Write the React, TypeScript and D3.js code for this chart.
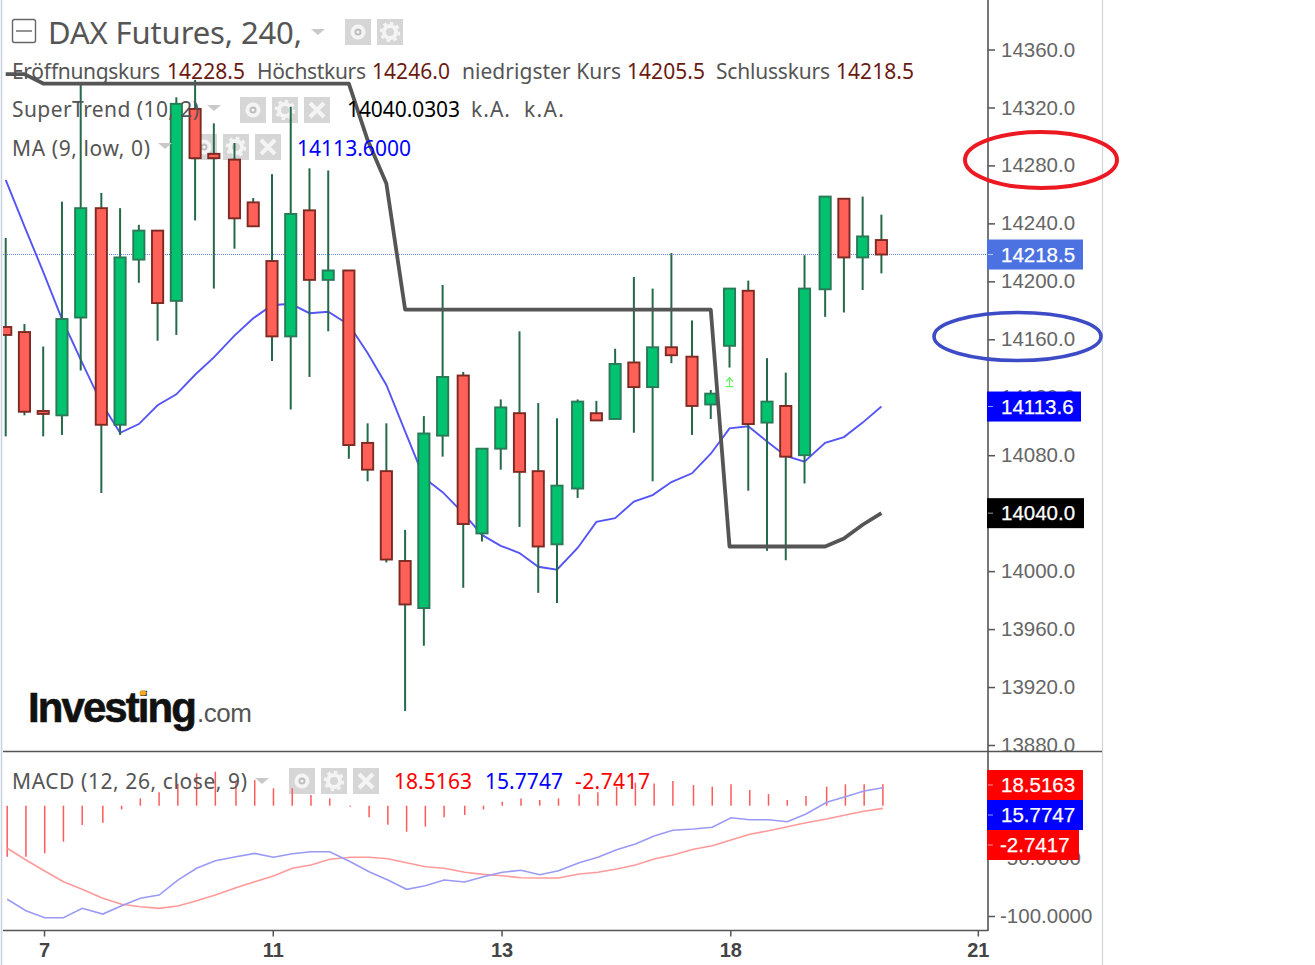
import * as React from "react";
import { useEffect, useRef } from "react";
import * as d3 from "d3";

// candles, oldest first
const opens = [14168.5, 14165, 14110.5, 14107.5, 14175, 14250.5, 14101, 14215, 14235, 14186.5, 14319, 14288, 14284, 14254.5, 14214, 14162, 14249, 14201, 14207.5, 14088.5, 14069, 14007, 13974.5, 14093.5, 14135, 14026, 14084.5, 14109, 14069, 14018.5, 14057, 14109, 14105, 14144, 14127, 14154.5, 14148, 14115, 14155.5, 14193.5, 14102.5, 14114, 14080, 14194.5, 14257, 14216.5, 14228.5];
const highs = [14230, 14170.5, 14155, 14255, 14337, 14261, 14250.5, 14239, 14235, 14327, 14339, 14309, 14295.5, 14257.5, 14274, 14320.5, 14278, 14276.5, 14207.5, 14102, 14102, 14028.5, 14107, 14197.5, 14137.5, 14084.5, 14118.5, 14165.5, 14116, 14105.5, 14118.5, 14117.5, 14153.5, 14203, 14195, 14219.5, 14173, 14125, 14195, 14200.5, 14147, 14137, 14218, 14258.5, 14257.5, 14258.5, 14246];
const lows = [14093, 14107.5, 14093, 14094, 14138.5, 14054, 14094, 14199, 14159, 14163, 14242, 14195, 14222.5, 14238, 14145, 14111.5, 14134, 14165.5, 14077.5, 14062, 14006, 13903.5, 13948.5, 14079, 13988.5, 14020.5, 14070, 14030.5, 13985, 13978, 14050.5, 14104, 14105, 14095.5, 14062, 14143.5, 14094, 14105, 14140.5, 14055.5, 14014, 14007.5, 14060.5, 14175.5, 14178.5, 14194, 14205.5];
const closes = [14163, 14110, 14108.5, 14174, 14250.5, 14101, 14216.5, 14235, 14185, 14322.5, 14285, 14285, 14243.5, 14238, 14162, 14246.5, 14201, 14207.5, 14087, 14070, 14008, 13977, 14095, 14134, 14032.5, 14084.5, 14113, 14068.5, 14017, 14059, 14117, 14104, 14143, 14127, 14154.5, 14149, 14114, 14122.5, 14195, 14101.5, 14117, 14079, 14195, 14258.5, 14216.5, 14231, 14218.5];

const maLow = [14270, 14238, 14206.5, 14174, 14146, 14116, 14095.5, 14101.5, 14114.5, 14122, 14135.5, 14147.5, 14162.5, 14174.5, 14183.5, 14184.5, 14178, 14179, 14170, 14150.5, 14128.5, 14096.5, 14064.5, 14054.5, 14040, 14025, 14017.5, 14012.5, 14003, 14001, 14016, 14034, 14036.5, 14048, 14052.5, 14061.5, 14067.5, 14081, 14098.5, 14100, 14089.5, 14079.5, 14075.5, 14088.5, 14092.5, 14102.5, 14113.6];
const superTrend = [14343, 14343, 14336.5, 14336.5, 14336.5, 14336.5, 14336.5, 14336.5, 14336.5, 14336.5, 14336.5, 14336.5, 14336.5, 14336.5, 14336.5, 14336.5, 14336.5, 14336.5, 14336.5, 14297.5, 14267.5, 14180.5, 14180.5, 14180.5, 14180.5, 14180.5, 14180.5, 14180.5, 14180.5, 14180.5, 14180.5, 14180.5, 14180.5, 14180.5, 14180.5, 14180.5, 14180.5, 14180.5, 14017, 14017, 14017, 14017, 14017, 14017, 14022.5, 14032, 14040];

const macdBlue = [-85.6, -95.4, -101.5, -101.5, -93.4, -98.3, -91.1, -84.7, -81.9, -69, -58.9, -52.3, -48.9, -46, -49.4, -46.3, -44.6, -44.6, -53.2, -61.8, -69, -77, -73.9, -69, -70.7, -66.1, -62.3, -60.6, -64.4, -61, -54.1, -49.4, -42.8, -37.9, -31, -26.1, -25, -23.5, -15.3, -17, -17, -18.7, -12.1, -2, 2.8, 7.8, 10.6];
const macdRed = [-41.6, -51.7, -61.2, -70.4, -77, -84.7, -89.9, -92, -93.4, -91.4, -86.8, -81.9, -75.6, -70.4, -65.5, -58.9, -56, -51.1, -49.4, -49.4, -50.6, -54.1, -57.5, -58.9, -62.3, -64.1, -65.3, -67, -67.2, -67.2, -63.8, -62.3, -59.5, -56, -50.9, -47.4, -42.5, -39.4, -34.5, -29.6, -26.5, -23, -19.6, -16.4, -12.9, -9.7, -7.2];
const macdHist = [-44, -44, -41, -31, -16.7, -14.7, -3.2, 6.3, 11.5, 19, 28, 29.3, 20.7, 22, 15, 15, 9.2, 6.3, -0.9, -10, -16.4, -22.4, -18, -10, -8, -3.2, 3.4, 6.3, 4.9, 6.3, 9.8, 11.5, 16.4, 19.8, 19.2, 21.3, 17.8, 16.4, 18.4, 13.5, 10, 4.9, 8.3, 16.4, 18.4, 18.4, 18.4];

const sessionStarts = [5, 12, 18, 24, 30, 36, 43, 49];
const priceTicks = [14360, 14320, 14280, 14240, 14200, 14160, 14120, 14080, 14040, 14000, 13960, 13920, 13880];
const macdTicks = [-50, -100];
const dayTickIndex = [2, 14, 26, 38, 51];
const dayTickLabels = ["7", "11", "13", "18", "21"];
const signalIndex = 38;
const signalPrice = 14130.5;

const ohlcLabels = ["Eröffnungskurs", "Höchstkurs", "niedrigster Kurs", "Schlusskurs"];
const ohlcValues = ["14228.5", "14246.0", "14205.5", "14218.5"];

const GRAY = "#555";
const TAG_FONT = "'Liberation Sans', Arial, sans-serif";
const LEGEND_FONT = "'Noto Sans', Tahoma, sans-serif";

const slot = (i) => i + 0.1 * d3.bisectRight(sessionStarts, i);

export default function App() {
  const node = useRef(null);

  useEffect(() => {
    const svg = d3.select(node.current);
    svg.selectAll("*").remove();

    const x = d3.scaleLinear().domain([0, slot(46)]).range([5.7, 881.4]);
    const xLow = d3.scaleLinear().domain([0, slot(46)]).range([7.2, 882.9]);
    const y = d3.scaleLinear().domain([14360, 13880]).range([49.5, 745]);
    const yMacd = d3.scaleLinear().domain([-100, -50]).range([916, 858]);
    const yHist = d3.scaleLinear().domain([0, 50]).range([805.7, 747.7]);

    const defs = svg.append("defs");
    defs.append("clipPath").attr("id", "main-clip").append("rect").attr("x", 3).attr("y", 0).attr("width", 985).attr("height", 751);
    defs.append("clipPath").attr("id", "axis-clip").append("rect").attr("x", 988).attr("y", 0).attr("width", 114).attr("height", 751);

    const text = (g, tx, ty, s, width, color, size = 21, font = LEGEND_FONT) =>
      g.append("text")
        .attr("x", tx)
        .attr("y", ty)
        .attr("fill", color)
        .attr("textLength", width)
        .attr("lengthAdjust", "spacing")
        .style("font-family", font)
        .style("font-size", size + "px")
        .text(s);

    // little gray eye / gear / close buttons of the legend
    const button = (g, bx, by, kind) => {
      const b = g.append("g").attr("transform", `translate(${bx},${by})`);
      b.append("rect").attr("width", 26).attr("height", 26).attr("fill", "#d6d6d6");
      if (kind === "eye") {
        b.append("circle").attr("cx", 13).attr("cy", 13).attr("r", 7.5).attr("fill", "#f4f4f4");
        b.append("circle").attr("cx", 13).attr("cy", 13).attr("r", 3.5).attr("fill", "#bdbdbd");
        b.append("circle").attr("cx", 13).attr("cy", 13).attr("r", 1.6).attr("fill", "#f4f4f4");
      } else if (kind === "gear") {
        b.append("circle").attr("cx", 13).attr("cy", 13).attr("r", 6).attr("fill", "none").attr("stroke", "#f4f4f4").attr("stroke-width", 4);
        b.append("circle").attr("cx", 13).attr("cy", 13).attr("r", 9).attr("fill", "none").attr("stroke", "#f4f4f4").attr("stroke-width", 2.5).attr("stroke-dasharray", "3.5 3.5");
      } else {
        b.append("path").attr("d", "M6,6L20,20M20,6L6,20").attr("stroke", "#f4f4f4").attr("stroke-width", 4);
      }
    };

    const caret = (g, cx, cy) =>
      g.append("path").attr("d", `M${cx - 7},${cy - 3}L${cx + 7},${cy - 3}L${cx},${cy + 3}Z`).attr("fill", "#c9c9c9");

    // frame
    svg.append("line").attr("x1", 1.5).attr("x2", 1.5).attr("y1", 0).attr("y2", 965).attr("stroke", "#c8d2e0").attr("stroke-width", 1.5);
    svg.append("line").attr("x1", 1102.5).attr("x2", 1102.5).attr("y1", 0).attr("y2", 965).attr("stroke", "#ccd4da").attr("stroke-width", 1.2);

    // logo
    const logo = svg.append("g");
    text(logo, 28, 722, "Investing", 169, "#111", 42, TAG_FONT).style("font-weight", "bold").attr("stroke", "#111").attr("stroke-width", 0.6);
    text(logo, 197, 722, ".com", 55, "#555", 26, TAG_FONT);
    logo.append("ellipse").attr("cx", 143).attr("cy", 693).attr("rx", 3.5).attr("ry", 2.5).attr("fill", "#f5a623");

    // legend buttons sit under the candles
    const buttons = svg.append("g");
    [[345, "eye"], [377, "gear"]].forEach(([bx, k]) => button(buttons, bx, 19, k));
    [[240, "eye"], [272, "gear"], [304, "x"]].forEach(([bx, k]) => button(buttons, bx, 97, k));
    [[191, "eye"], [223, "gear"], [255, "x"]].forEach(([bx, k]) => button(buttons, bx, 134, k));
    [[289, "eye"], [321, "gear"], [353, "x"]].forEach(([bx, k]) => button(buttons, bx, 768, k));

    const main = svg.append("g").attr("clip-path", "url(#main-clip)");

    // last price line
    main.append("line")
      .attr("x1", 3).attr("x2", 988)
      .attr("y1", y(closes[46])).attr("y2", y(closes[46]))
      .attr("stroke", "#5f84f0").attr("stroke-width", 1).attr("stroke-dasharray", "1 1");

    const idx = d3.range(opens.length);
    const priceLine = d3.line().x((d) => x(slot(d[0]))).y((d) => y(d[1]));

    main.append("path")
      .attr("d", priceLine(maLow.map((v, i) => [i, v])))
      .attr("fill", "none").attr("stroke", "#5555f5").attr("stroke-width", 1.9);

    const candle = main.selectAll("g.candle").data(idx).join("g").attr("class", "candle");
    candle.append("line")
      .attr("x1", (i) => x(slot(i))).attr("x2", (i) => x(slot(i)))
      .attr("y1", (i) => y(highs[i])).attr("y2", (i) => y(lows[i]))
      .attr("stroke", "#26694a").attr("stroke-width", 2);
    candle.append("rect")
      .attr("x", (i) => x(slot(i)) - 5.6)
      .attr("width", 11.2)
      .attr("y", (i) => y(Math.max(opens[i], closes[i])))
      .attr("height", (i) => Math.max(1, Math.abs(y(opens[i]) - y(closes[i]))))
      .attr("fill", (i) => (closes[i] >= opens[i] ? "#00c26f" : "#ff6058"))
      .attr("stroke", (i) => (closes[i] >= opens[i] ? "#2a7a58" : "#7c2a22"))
      .attr("stroke-width", 1.9);

    main.append("path")
      .attr("d", priceLine(superTrend.map((v, i) => [i, v])))
      .attr("fill", "none").attr("stroke", GRAY).attr("stroke-width", 3.8).attr("stroke-linejoin", "round");

    // buy signal arrow
    const sx = x(slot(signalIndex));
    main.append("path")
      .attr("transform", `translate(${sx},${y(signalPrice)})`)
      .attr("d", "M-4,4.5L4,4.5M0,4.5L0,-4.5M-3.5,-0.5L0,-4.5L3.5,-0.5")
      .attr("fill", "none").attr("stroke", "#66f066").attr("stroke-width", 1.2);

    // price axis
    const priceAxis = svg.append("g").attr("clip-path", "url(#axis-clip)").append("g")
      .attr("transform", "translate(988,0)")
      .call(d3.axisRight(y).tickValues(priceTicks).tickSize(7).tickPadding(6).tickFormat((d) => d.toFixed(1)));
    priceAxis.select(".domain").remove();
    priceAxis.selectAll("line").attr("stroke", GRAY).attr("stroke-width", 1.5);
    priceAxis.selectAll("text").attr("fill", "#666").style("font-family", TAG_FONT).style("font-size", "20.5px");

    // lower pane
    const low = svg.append("g");
    low.selectAll("line.hist").data(macdHist).join("line").attr("class", "hist")
      .attr("x1", (d, i) => xLow(slot(i))).attr("x2", (d, i) => xLow(slot(i)))
      .attr("y1", yHist(0)).attr("y2", (d) => yHist(d))
      .attr("stroke", "#ff5a5a").attr("stroke-width", 1.5);
    const macdPath = d3.line().x((d, i) => xLow(slot(i))).y((d) => yMacd(d));
    low.append("path").attr("d", macdPath(macdRed)).attr("fill", "none").attr("stroke", "#ff9a9a").attr("stroke-width", 1.6);
    low.append("path").attr("d", macdPath(macdBlue)).attr("fill", "none").attr("stroke", "#9a9af5").attr("stroke-width", 1.6);

    const macdAxis = svg.append("g")
      .attr("transform", "translate(988,0)")
      .call(d3.axisRight(yMacd).tickValues(macdTicks).tickSize(7).tickPadding(5).tickFormat((d) => d.toFixed(4)));
    macdAxis.select(".domain").remove();
    macdAxis.selectAll("line").attr("stroke", GRAY).attr("stroke-width", 1.5);
    macdAxis.selectAll("text").attr("fill", "#666").style("font-family", TAG_FONT).style("font-size", "20.5px");

    const timeAxis = svg.append("g")
      .attr("transform", "translate(-0.7,930.5)")
      .call(d3.axisBottom(xLow).tickValues(dayTickIndex.map(slot)).tickSize(6).tickPadding(6)
        .tickFormat((d, i) => dayTickLabels[i]));
    timeAxis.select(".domain").remove();
    timeAxis.selectAll("line").attr("stroke", GRAY).attr("stroke-width", 1.5);
    timeAxis.selectAll("text").attr("fill", "#444").style("font-family", TAG_FONT).style("font-size", "20px").style("font-weight", "bold");

    // pane borders
    svg.append("line").attr("x1", 988).attr("x2", 988).attr("y1", 0).attr("y2", 931).attr("stroke", GRAY).attr("stroke-width", 1.6);
    svg.append("line").attr("x1", 3).attr("x2", 1102).attr("y1", 751.5).attr("y2", 751.5).attr("stroke", GRAY).attr("stroke-width", 1.6);
    svg.append("line").attr("x1", 3).attr("x2", 988).attr("y1", 930.5).attr("y2", 930.5).attr("stroke", GRAY).attr("stroke-width", 1.6);

    // value tags on the axis
    const tag = (cy, label, fill, w = 96, tx = 1001) => {
      const t = svg.append("g");
      t.append("rect").attr("x", 987).attr("y", cy - 15).attr("width", w).attr("height", 30).attr("fill", fill);
      t.append("line").attr("x1", 988).attr("x2", 993).attr("y1", cy).attr("y2", cy).attr("stroke", "#fff").attr("stroke-opacity", 0.6);
      t.append("text").attr("x", tx).attr("y", cy).attr("dy", "0.35em").attr("fill", "#fff").attr("stroke", "#fff").attr("stroke-width", 0.25)
        .style("font-family", TAG_FONT).style("font-size", "20.5px").text(label);
    };
    tag(y(closes[46]), closes[46].toFixed(1), "#4c72e2");
    tag(y(maLow[46]), maLow[46].toFixed(1), "#0000ff", 94);
    tag(y(superTrend[46]), superTrend[46].toFixed(1), "#000", 97);
    tag(785, "18.5163", "#ff0000");
    tag(815, "15.7747", "#0000ff");
    tag(845, "-2.7417", "#ff0000", 92, 1000);

    // hand drawn marks on the axis
    svg.append("ellipse").attr("cx", 1041).attr("cy", 160).attr("rx", 76).attr("ry", 28)
      .attr("fill", "none").attr("stroke", "#ec1822").attr("stroke-width", 4);
    svg.append("ellipse").attr("cx", 1017.5).attr("cy", 336.5).attr("rx", 83.5).attr("ry", 24)
      .attr("fill", "none").attr("stroke", "#3d4cc6").attr("stroke-width", 3.6);

    // legend text
    const legend = svg.append("g");
    legend.append("rect").attr("x", 12.5).attr("y", 19.5).attr("width", 23).attr("height", 23).attr("rx", 2).attr("fill", "none").attr("stroke", "#666").attr("stroke-width", 1.4);
    legend.append("line").attr("x1", 16).attr("x2", 32).attr("y1", 31).attr("y2", 31).attr("stroke", "#666").attr("stroke-width", 1.4);
    text(legend, 48, 44, "DAX Futures, 240,", 254, GRAY, 31);
    caret(legend, 318, 32);

    const labelPos = [[12, 148], [257, 109], [462, 159], [716, 114]];
    const valuePos = [167, 372, 627, 836];
    ohlcLabels.forEach((s, i) => text(legend, labelPos[i][0], 79, s, labelPos[i][1], GRAY));
    ohlcValues.forEach((s, i) => text(legend, valuePos[i], 79, s, 78, "#6b1a12"));

    text(legend, 12, 117, "SuperTrend (10, 2)", 187, GRAY);
    caret(legend, 214, 108);
    text(legend, 347, 117, "14040.0303", 113, "#000");
    text(legend, 471, 117, "k.A.", 39, GRAY);
    text(legend, 524, 117, "k.A.", 40, GRAY);

    text(legend, 12, 156, "MA (9, low, 0)", 138, GRAY);
    caret(legend, 165, 146);
    text(legend, 297, 156, "14113.6000", 114, "#0000ff");

    text(legend, 12, 789, "MACD (12, 26, close, 9)", 235, GRAY);
    caret(legend, 262, 781);
    text(legend, 394, 789, "18.5163", 78, "#ff0000");
    text(legend, 485, 789, "15.7747", 78, "#0000ff");
    text(legend, 575, 789, "-2.7417", 75, "#ff0000");
  }, []);

  return <svg ref={node} width={1315} height={965} style={{ position: "absolute", left: 0, top: 0, background: "#fff" }} />;
}
